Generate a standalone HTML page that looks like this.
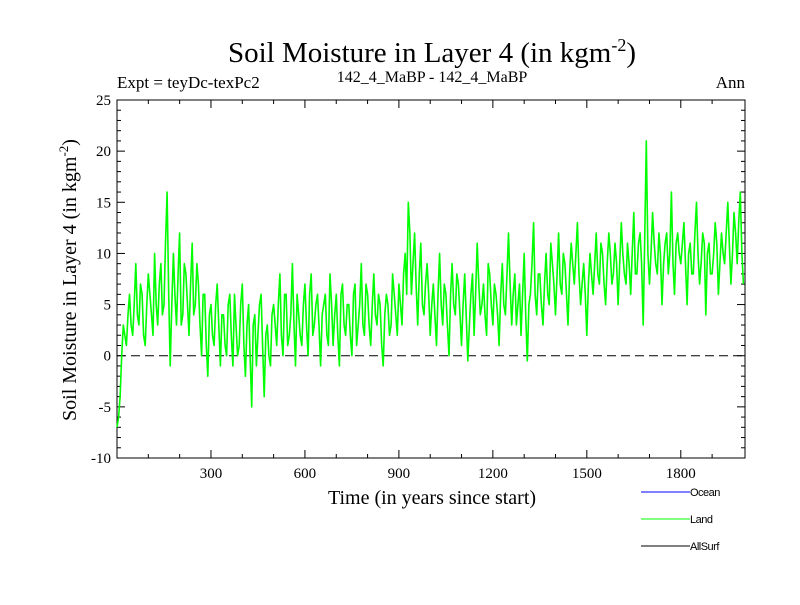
<!DOCTYPE html>
<html><head><meta charset="utf-8"><style>
body{margin:0;background:#fff;}
svg text{font-family:"Liberation Serif",serif;}
svg text.sans{font-family:"Liberation Sans",sans-serif;}
</style></head><body>
<svg id="c" width="800" height="600" xmlns="http://www.w3.org/2000/svg">
<rect width="800" height="600" fill="#fff"/>
<text x="432" y="62" font-size="29" text-anchor="middle">Soil Moisture in Layer 4 (in kgm<tspan dy="-11" font-size="18">-2</tspan><tspan dy="11">)</tspan></text>
<text x="117" y="88" font-size="17">Expt = teyDc-texPc2</text>
<text x="432" y="82" font-size="16" text-anchor="middle">142_4_MaBP - 142_4_MaBP</text>
<text x="745" y="88" font-size="17" text-anchor="end">Ann</text>
<text transform="translate(76,280) rotate(-90)" font-size="20" text-anchor="middle">Soil Moisture in Layer 4 (in kgm<tspan dy="-8" font-size="13">-2</tspan><tspan dy="8">)</tspan></text>
<text x="432" y="504" font-size="20" text-anchor="middle">Time (in years since start)</text>
<g id="axes"></g>
<g id="series"></g>
<g id="legend">
<line x1="641" y1="492" x2="690" y2="492" stroke="#0000ff"/>
<text class="sans" x="690" y="496" font-size="11" letter-spacing="-0.5">Ocean</text>
<line x1="641" y1="519" x2="690" y2="519" stroke="#00ff00"/>
<text class="sans" x="690" y="523" font-size="11" letter-spacing="-0.5">Land</text>
<line x1="641" y1="546" x2="690" y2="546" stroke="#000"/>
<text class="sans" x="690" y="550" font-size="11" letter-spacing="-0.5">AllSurf</text>
</g>
</svg>
<script>
const years=[];for(let i=0;i<=200;i++)years.push(i*10);
const landValues=[-7,-4,3,1,6,2,9,3,6,1,8,4,10,3,9,5,16,-1,10,3,
12,4,8,2,11,5,7,0,6,-2,5,1,7,-1,4,0,6,-1,3,1,
7,-2,5,-5,4,2,6,-4,3,-1,5,1,8,0,6,2,9,-1,4,1,
7,0,8,3,6,-1,5,2,8,1,6,-1,7,2,5,0,7,3,9,2,
6,1,8,3,5,-1,6,2,8,4,7,3,10,15,6,12,3,11,4,9,
2,7,1,10,3,6,0,9,4,7,1,8,-0.5,6,2,11,4,7,2,8,
3,6,1,9,4,12,3,8,5,2,10,-0.5,6,13,4,8,3,10,5,9,
4,12,6,9,3,11,7,13,5,9,2,10,6,12,7,10,5,12,7,11,
5,13,8,11,6,14,8,12,3,21,7,14,9,12,5,11,8,16,6,12,
9,13,5,11,8,15,7,12,4,11,8,13,6,12,9,15,7,14,9,16,7];
const landValuesMid=[-6,0,2,4,3,5,4,7,2,5,6,2,5,7,4,11,6,5,6,8,
3,9,5,7,4,9,3,6,1,4,2,5,3,4,1,5,2,6,0,5,
1,3,0,3,-1,5,1,2,0,4,3,5,2,6,1,4,3,6,2,5,
3,6,2,5,3,4,6,1,5,4,2,6,3,5,2,6,1,5,3,7,
3,5,4,6,1,4,5,3,6,2,5,8,6,12,9,7,8,5,7,6,
5,4,6,5,7,3,6,5,8,4,5,4,3,8,6,7,5,4,9,5,
7,4,6,5,8,7,6,3,7,6,4,5,9,6,8,5,7,6,11,7,
8,7,10,6,8,9,10,8,7,6,7,8,9,8,11,7,9,10,8,9,
9,10,7,9,10,8,11,9,12,10,10,11,8,10,9,12,10,9,11,10,
11,9,10,8,12,10,9,11,10,8,10,11,9,10,12,11,10,12,13,10];
const yTicks=[-10,-5,0,5,10,15,20,25];
const xTicks=[300,600,900,1200,1500,1800];
const X0=117,X1=745,Y0=458,Y1=100,xMin=0,xMax=2005,yMin=-10,yMax=25;
const xs=v=>X0+(v-xMin)/(xMax-xMin)*(X1-X0);
const ys=v=>Y0-(v-yMin)/(yMax-yMin)*(Y0-Y1);
const NS='http://www.w3.org/2000/svg';
function mk(t,a,p){const e=document.createElementNS(NS,t);for(const k in a)e.setAttribute(k,a[k]);p.appendChild(e);return e;}
const ax=document.getElementById('axes');
const frame=mk('rect',{x:X0,y:Y1,width:X1-X0,height:Y0-Y1,fill:'none',stroke:'#000','stroke-width':1},ax);


for(let v=yMin;v<=yMax;v++){
 const y=ys(v),len=(v%5===0)?8:4;
 mk('line',{x1:X0,y1:y,x2:X0+len,y2:y,stroke:'#000'},ax);
 mk('line',{x1:X1,y1:y,x2:X1-len,y2:y,stroke:'#000'},ax);
}
yTicks.forEach(v=>{
 const t=mk('text',{x:X0-6,y:ys(v)+5,'font-size':15,'text-anchor':'end'},ax);
 t.textContent=v;
 
 
});
for(let v=100;v<2000;v+=100){
 const x=xs(v),len=(v%300===0)?8:4;
 mk('line',{x1:x,y1:Y0,x2:x,y2:Y0-len,stroke:'#000'},ax);
 mk('line',{x1:x,y1:Y1,x2:x,y2:Y1+len,stroke:'#000'},ax);
}
xTicks.forEach(v=>{
 const t=mk('text',{x:xs(v),y:Y0+20,'font-size':15,'text-anchor':'middle'},ax);
 t.textContent=v;
 
 
});
const sg=document.getElementById('series');
const zero=mk('line',{x1:X0,y1:ys(0),x2:X1,y2:ys(0),stroke:'#000','stroke-dasharray':'9,5'},sg);


const P=[];
years.forEach((yr,i)=>{
 P.push(xs(yr).toFixed(1)+','+ys(landValues[i]).toFixed(1));
 if(i<landValuesMid.length)P.push(xs(yr+5).toFixed(1)+','+ys(landValuesMid[i]).toFixed(1));
});
const pl=mk('polyline',{points:P.join(' '),fill:'none',stroke:'#00ff00','stroke-width':1.6,'stroke-linejoin':'round'},sg);


</script>
</body></html>
